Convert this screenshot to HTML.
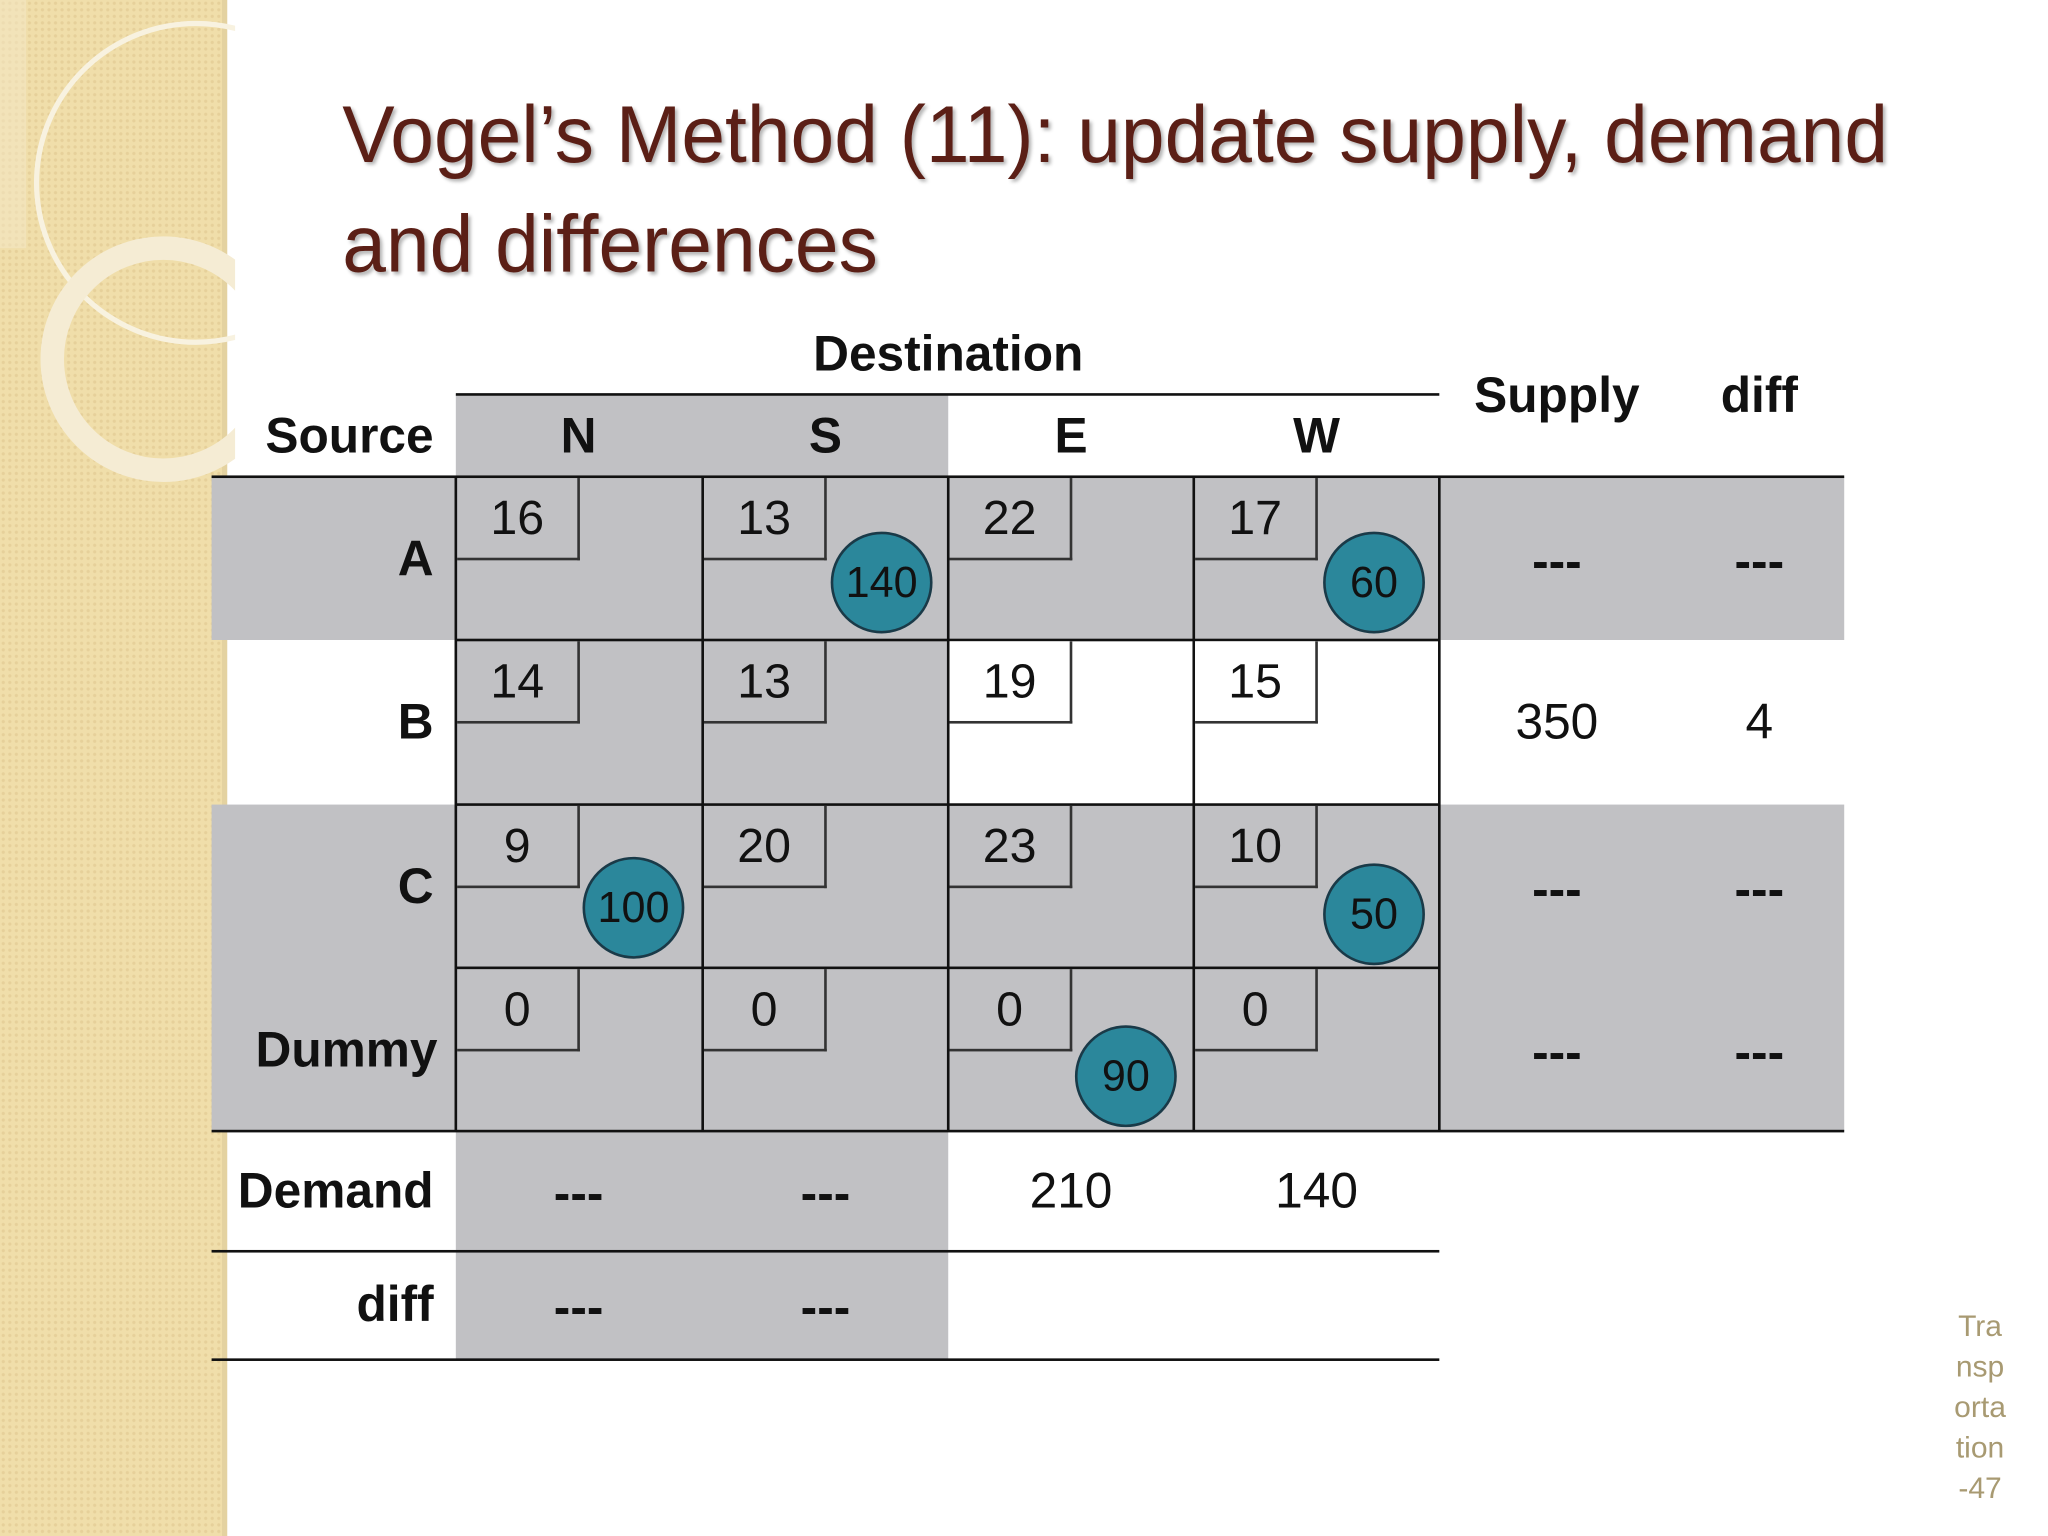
<!DOCTYPE html>
<html><head><meta charset="utf-8"><style>
html,body{margin:0;padding:0;background:#fff;}
body{width:2048px;height:1536px;overflow:hidden;position:relative;}
#s{position:absolute;left:0;top:0;width:1568px;height:1176px;transform:scale(1.3061,1.30612);transform-origin:0 0;font-family:"Liberation Sans",sans-serif;}
.a{position:absolute;}
.t{position:absolute;transform:translate(-50%,-50%);white-space:nowrap;font-size:38px;color:#111;}
.b{font-weight:bold;}
.r{position:absolute;transform:translateY(-50%);text-align:right;white-space:nowrap;font-weight:bold;font-size:38px;color:#111;}
.g{position:absolute;background:#c1c1c4;}
.hl{position:absolute;height:2px;background:#111;}
.vl{position:absolute;width:2px;background:#111;}
.box{position:absolute;width:92px;height:61px;border-right:2px solid #333;border-bottom:2px solid #333;font-size:37px;display:flex;align-items:center;justify-content:center;color:#111;}
.c{position:absolute;width:74px;height:74px;border-radius:50%;background:#2b879b;border:2px solid #1a3a48;transform:translate(-50%,-50%);display:flex;align-items:center;justify-content:center;font-size:33px;color:#111;}
</style></head><body>
<div id="s">
<div class="a" style="left:0;top:0;width:173px;height:1176px;background:#f0deaa;background-image:radial-gradient(#e6d09a 1px,transparent 1.5px);background-size:5px 5px;"></div>
<div class="a" style="left:170px;top:0;width:4px;height:1176px;background:#e4d2a0;"></div>
<svg class="a" style="left:0;top:0" width="180" height="400">
<circle cx="150" cy="140" r="122" fill="none" stroke="#f8f2e0" stroke-width="4"/>
<circle cx="125" cy="275" r="85" fill="none" stroke="#f5ecd4" stroke-width="18"/>
<rect x="0" y="0" width="20" height="190" fill="#f3e8c8" opacity="0.5"/>
</svg>
<div class="a" style="left:262px;top:62px;font-size:62px;line-height:84px;color:#5b1f16;text-shadow:2px 2px 3px rgba(0,0,0,0.3);transform:scaleX(0.97);transform-origin:0 0;white-space:nowrap;">Vogel’s Method (11): update supply, demand<br>and differences</div>

<div class="g" style="left:349px;top:302px;width:377px;height:63px"></div>
<div class="g" style="left:162px;top:365px;width:1250px;height:125px"></div>
<div class="g" style="left:349px;top:490px;width:377px;height:126px"></div>
<div class="g" style="left:162px;top:616px;width:1250px;height:250px"></div>
<div class="g" style="left:349px;top:866px;width:377px;height:175px"></div>

<div class="hl" style="left:349px;top:301px;width:753px"></div>
<div class="hl" style="left:162px;top:364px;width:1250px"></div>
<div class="hl" style="left:349px;top:489px;width:753px"></div>
<div class="hl" style="left:349px;top:615px;width:753px"></div>
<div class="hl" style="left:349px;top:740px;width:753px"></div>
<div class="hl" style="left:162px;top:865px;width:1250px"></div>
<div class="hl" style="left:162px;top:957px;width:940px"></div>
<div class="hl" style="left:162px;top:1040px;width:940px"></div>
<div class="vl" style="left:348px;top:365px;height:501px"></div>
<div class="vl" style="left:537px;top:365px;height:501px"></div>
<div class="vl" style="left:725px;top:365px;height:501px"></div>
<div class="vl" style="left:913px;top:365px;height:501px"></div>
<div class="vl" style="left:1101px;top:365px;height:501px"></div>

<div class="t b" style="left:726px;top:272px">Destination</div>
<div class="t b" style="left:1192px;top:304px">Supply</div>
<div class="t b" style="left:1347px;top:304px">diff</div>
<div class="r" style="right:1236px;top:335px">Source</div>
<div class="t b" style="left:443px;top:335px">N</div>
<div class="t b" style="left:632px;top:335px">S</div>
<div class="t b" style="left:820px;top:335px">E</div>
<div class="t b" style="left:1008px;top:335px">W</div>
<div class="r" style="right:1236px;top:429px">A</div>
<div class="r" style="right:1236px;top:554px">B</div>
<div class="r" style="right:1236px;top:680px">C</div>
<div class="r" style="right:1233px;top:805px">Dummy</div>
<div class="r" style="right:1236px;top:913px">Demand</div>
<div class="r" style="right:1236px;top:1000px">diff</div>

<div class="box" style="left:350px;top:366px">16</div>
<div class="box" style="left:539px;top:366px">13</div>
<div class="box" style="left:727px;top:366px">22</div>
<div class="box" style="left:915px;top:366px">17</div>
<div class="box" style="left:350px;top:491px">14</div>
<div class="box" style="left:539px;top:491px">13</div>
<div class="box" style="left:727px;top:491px;background:#fff">19</div>
<div class="box" style="left:915px;top:491px;background:#fff">15</div>
<div class="box" style="left:350px;top:617px">9</div>
<div class="box" style="left:539px;top:617px">20</div>
<div class="box" style="left:727px;top:617px">23</div>
<div class="box" style="left:915px;top:617px">10</div>
<div class="box" style="left:350px;top:742px">0</div>
<div class="box" style="left:539px;top:742px">0</div>
<div class="box" style="left:727px;top:742px">0</div>
<div class="box" style="left:915px;top:742px">0</div>

<div class="c" style="left:675px;top:446px">140</div>
<div class="c" style="left:1052px;top:446px">60</div>
<div class="c" style="left:485px;top:695px">100</div>
<div class="c" style="left:1052px;top:700px">50</div>
<div class="c" style="left:862px;top:824px">90</div>

<div class="t b" style="left:1192px;top:431px">---</div>
<div class="t b" style="left:1347px;top:431px">---</div>
<div class="t" style="left:1192px;top:554px">350</div>
<div class="t" style="left:1347px;top:554px">4</div>
<div class="t b" style="left:1192px;top:682px">---</div>
<div class="t b" style="left:1347px;top:682px">---</div>
<div class="t b" style="left:1192px;top:807px">---</div>
<div class="t b" style="left:1347px;top:807px">---</div>
<div class="t b" style="left:443px;top:915px">---</div>
<div class="t b" style="left:632px;top:915px">---</div>
<div class="t" style="left:820px;top:913px">210</div>
<div class="t" style="left:1008px;top:913px">140</div>
<div class="t b" style="left:443px;top:1002px">---</div>
<div class="t b" style="left:632px;top:1002px">---</div>

<div class="a" style="left:1480px;top:1000px;width:72px;text-align:center;font-size:23px;line-height:31px;color:#a89a72;">Tra<br>nsp<br>orta<br>tion<br>-47</div>
</div>
</body></html>
